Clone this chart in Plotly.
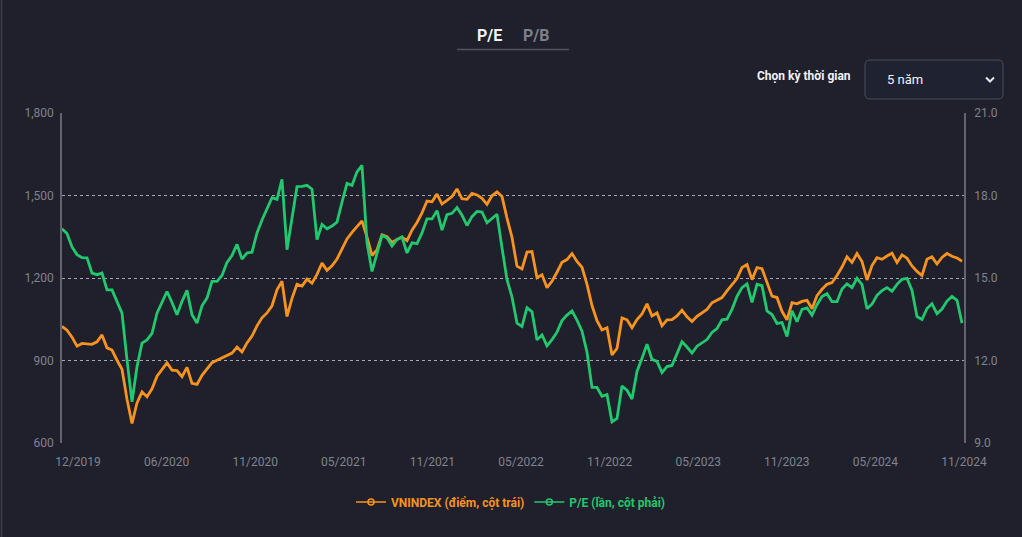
import plotly.graph_objects as go

# ---------------- data ----------------
x_labels = ["12/2019", "06/2020", "11/2020", "05/2021", "11/2021", "05/2022",
            "11/2022", "05/2023", "11/2023", "05/2024", "11/2024"]

vnindex = [
    1024, 1010, 985, 952, 962, 960, 959, 968, 993, 946, 938, 901, 868, 759, 671, 746, 786, 768,
    797, 843, 867, 891, 865, 863, 841, 875, 817, 813, 846, 868, 892, 901, 910, 916, 927, 949,
    931, 964, 989, 1026, 1055, 1073, 1099, 1157, 1188, 1060, 1126, 1177, 1171, 1196, 1181, 1213,
    1254, 1228, 1244, 1269, 1306, 1342, 1366, 1387, 1408, 1349, 1282, 1302, 1357, 1350, 1329,
    1340, 1349, 1336, 1374, 1402,
    1437, 1480, 1477, 1505, 1469, 1482, 1496, 1524, 1488, 1486, 1508, 1502, 1490, 1468, 1499,
    1513, 1496, 1418, 1348, 1243, 1233, 1294, 1296, 1201, 1212, 1165, 1188, 1221, 1257, 1267,
    1289, 1260, 1239, 1177, 1100, 1045,
    1011, 1019, 920, 944, 1055, 1048, 1019, 1049, 1069, 1106, 1062, 1073, 1026, 1048, 1049,
    1062, 1083, 1059, 1042, 1061, 1073, 1086, 1110, 1121, 1129, 1153, 1177, 1198, 1238, 1249,
    1194, 1238, 1234, 1182, 1134, 1129,
    1079, 1048, 1110, 1106, 1115, 1119, 1088, 1136, 1159, 1177, 1183, 1209, 1240, 1277, 1257,
    1289, 1260, 1193, 1245, 1274, 1268, 1280, 1290, 1256, 1284, 1272, 1244, 1224, 1209, 1268,
    1277, 1251, 1275, 1289, 1279, 1273, 1261,
]

pe = [
    16.79, 16.62, 16.13, 15.85, 15.74, 15.73, 15.18, 15.12, 15.18, 14.57, 14.57, 14.15, 13.72,
    12.02, 10.50, 11.77, 12.63, 12.75, 12.99, 13.72, 14.09, 14.51, 14.11, 13.66, 14.15, 14.55,
    13.66, 13.36, 13.99, 14.27, 14.88, 14.88, 15.09, 15.57, 15.82, 16.22,
    15.69, 15.91, 15.94, 16.64, 17.11, 17.50, 17.92, 17.86, 18.59, 16.03, 17.13, 18.32, 18.33,
    18.37, 18.23, 16.40, 16.95, 16.79, 16.89, 17.03, 17.76, 18.44, 18.37, 18.86, 19.10, 16.28,
    15.24, 15.94, 16.55, 16.46, 16.16, 16.40, 16.49, 15.91, 16.28, 16.25,
    16.64, 17.15, 17.15, 17.45, 16.74, 17.30, 17.35, 17.56, 17.28, 16.91, 17.23, 17.42, 17.40,
    17.01, 17.15, 17.32, 16.10, 14.94, 14.31, 13.36, 13.24, 13.92, 13.77, 12.75, 12.93, 12.53,
    12.76, 13.03, 13.45, 13.65, 13.80, 13.47, 13.07, 12.30, 11.02, 11.02,
    10.70, 10.76, 9.77, 9.89, 11.07, 10.92, 10.60, 11.60, 12.08, 12.59, 12.04, 11.97, 11.56,
    11.78, 11.82, 12.24, 12.68, 12.49, 12.27, 12.52, 12.64, 12.76, 13.02, 13.16, 13.48, 13.50,
    13.86, 14.33, 14.65, 14.79, 14.11, 14.77, 14.72, 13.80, 13.67, 13.35,
    13.38, 12.87, 13.81, 13.41, 13.86, 13.91, 13.65, 14.03, 14.33, 14.43, 14.14, 14.14, 14.60,
    14.79, 14.65, 14.99, 14.76, 13.88, 14.05, 14.37, 14.54, 14.65, 14.52, 14.77, 14.95, 14.99,
    14.55, 13.60, 13.49, 13.89, 14.06, 13.70, 13.87, 14.16, 14.33, 14.19, 13.36,
]

sessions = list(range(len(vnindex)))

# ---------------- style ----------------
BG = "#1f202b"
ORANGE = "#f7931e"
GREEN = "#22c86e"
TICK = "#80838f"
FONT = "Roboto"

W, H = 1022, 537
L, R, T, B = 62, 964, 113, 443


def px(xp):
    return (xp - L) / (R - L)


def py(yp):
    return (B - yp) / (B - T)


fig = go.Figure()

fig.add_trace(go.Scatter(x=sessions, y=vnindex, mode="lines", yaxis="y",
                         line=dict(color=ORANGE, width=2.8), showlegend=False,
                         hoverinfo="skip"))
fig.add_trace(go.Scatter(x=sessions, y=pe, mode="lines", yaxis="y2",
                         line=dict(color=GREEN, width=2.8), showlegend=False,
                         hoverinfo="skip"))

# legend entries
fig.add_trace(go.Scatter(x=[None], y=[None], mode="lines+markers", yaxis="y",
                         line=dict(color=ORANGE, width=1.5),
                         marker=dict(symbol="circle-open", size=6, color=ORANGE, line=dict(width=1.5)),
                         name=f"<span style='color:{ORANGE}'><b>VNINDEX (điểm, cột trái)</b></span>"))
fig.add_trace(go.Scatter(x=[None], y=[None], mode="lines+markers", yaxis="y2",
                         line=dict(color=GREEN, width=1.5),
                         marker=dict(symbol="circle-open", size=6, color=GREEN, line=dict(width=1.5)),
                         name=f"<span style='color:{GREEN}'><b>P/E (lần, cột phải)</b></span>"))

tick_pos = [3.2 + 17.72 * k for k in range(len(x_labels))]

fig.update_layout(
    width=W, height=H,
    paper_bgcolor=BG, plot_bgcolor=BG,
    margin=dict(l=L, r=W - R, t=T, b=H - B, pad=0),
    font=dict(family=FONT, size=12, color=TICK),
    xaxis=dict(range=[0, 180.4], tickvals=tick_pos, ticktext=x_labels,
               showgrid=False, zeroline=False, showline=False,
               tickfont=dict(color=TICK, size=12), ticks="", ticklabelstandoff=10),
    yaxis=dict(range=[600, 1800], dtick=300, tickformat=",", showgrid=True,
               gridcolor="rgba(200,202,210,0.8)", griddash="3px,3px", gridwidth=1,
               zeroline=False, showline=True, linecolor="#62656f", linewidth=1.5,
               tickfont=dict(color=TICK, size=12), ticks="outside", ticklen=4,
               tickcolor=BG),
    yaxis2=dict(range=[9, 21], dtick=3, tickformat=".1f", overlaying="y", side="right",
                showgrid=False, zeroline=False, showline=True, linecolor="#62656f",
                linewidth=1.5, tickfont=dict(color=TICK, size=12), ticks="outside",
                ticklen=6, tickcolor=BG),
    legend=dict(orientation="h", x=px(511), y=py(502), xanchor="center", yanchor="middle",
                bgcolor="rgba(0,0,0,0)", font=dict(family=FONT, size=12),
                itemwidth=30, tracegroupgap=0),
    hovermode=False,
)

# ---------- header: tabs ----------
fig.add_annotation(x=px(489), y=py(36), xref="paper", yref="paper", text="<b>P/E</b>",
                   showarrow=False, xanchor="center", yanchor="middle",
                   font=dict(family=FONT, size=16, color="#f2f2f5"))
fig.add_annotation(x=px(536), y=py(36), xref="paper", yref="paper", text="<b>P/B</b>",
                   showarrow=False, xanchor="center", yanchor="middle",
                   font=dict(family=FONT, size=16, color="#7d808c"))
fig.add_shape(type="line", xref="paper", yref="paper", x0=px(457), x1=px(569),
              y0=py(49.5), y1=py(49.5), line=dict(color="#50535f", width=1.5))

# ---------- header: period selector ----------
fig.add_annotation(x=px(853), y=py(76), xref="paper", yref="paper",
                   text="<b>Chọn kỳ thời gian</b>", showarrow=False,
                   xanchor="right", yanchor="middle",
                   font=dict(family=FONT, size=12, color="#f2f2f5"))

x0, x1, y0, y1, r = 865, 1003, 60, 99, 5
path = (f"M {px(x0 + r)},{py(y0)} L {px(x1 - r)},{py(y0)} "
        f"Q {px(x1)},{py(y0)} {px(x1)},{py(y0 + r)} "
        f"L {px(x1)},{py(y1 - r)} Q {px(x1)},{py(y1)} {px(x1 - r)},{py(y1)} "
        f"L {px(x0 + r)},{py(y1)} Q {px(x0)},{py(y1)} {px(x0)},{py(y1 - r)} "
        f"L {px(x0)},{py(y0 + r)} Q {px(x0)},{py(y0)} {px(x0 + r)},{py(y0)} Z")
fig.add_shape(type="path", xref="paper", yref="paper", path=path,
              line=dict(color="#4a4d5a", width=1), fillcolor="#1f2230")
fig.add_annotation(x=px(885), y=py(80), xref="paper", yref="paper", text="5 năm",
                   showarrow=False, xanchor="left", yanchor="middle",
                   font=dict(family=FONT, size=13, color="#f2f2f5"))
fig.add_shape(type="path", xref="paper", yref="paper",
              path=f"M {px(986)},{py(77.5)} L {px(990)},{py(81.5)} L {px(994)},{py(77.5)}",
              line=dict(color="#e6e6ea", width=2))

# container left border
fig.add_shape(type="line", xref="paper", yref="paper", x0=px(1.5), x1=px(1.5),
              y0=py(0), y1=py(H), line=dict(color="#3a3c48", width=1.5))

fig.write_html("out.html",
               config={"displayModeBar": False},
               post_script="document.body.style.margin='0';"
                           "document.body.style.background='#1f202b';"
                           "document.body.style.overflow='hidden';")
